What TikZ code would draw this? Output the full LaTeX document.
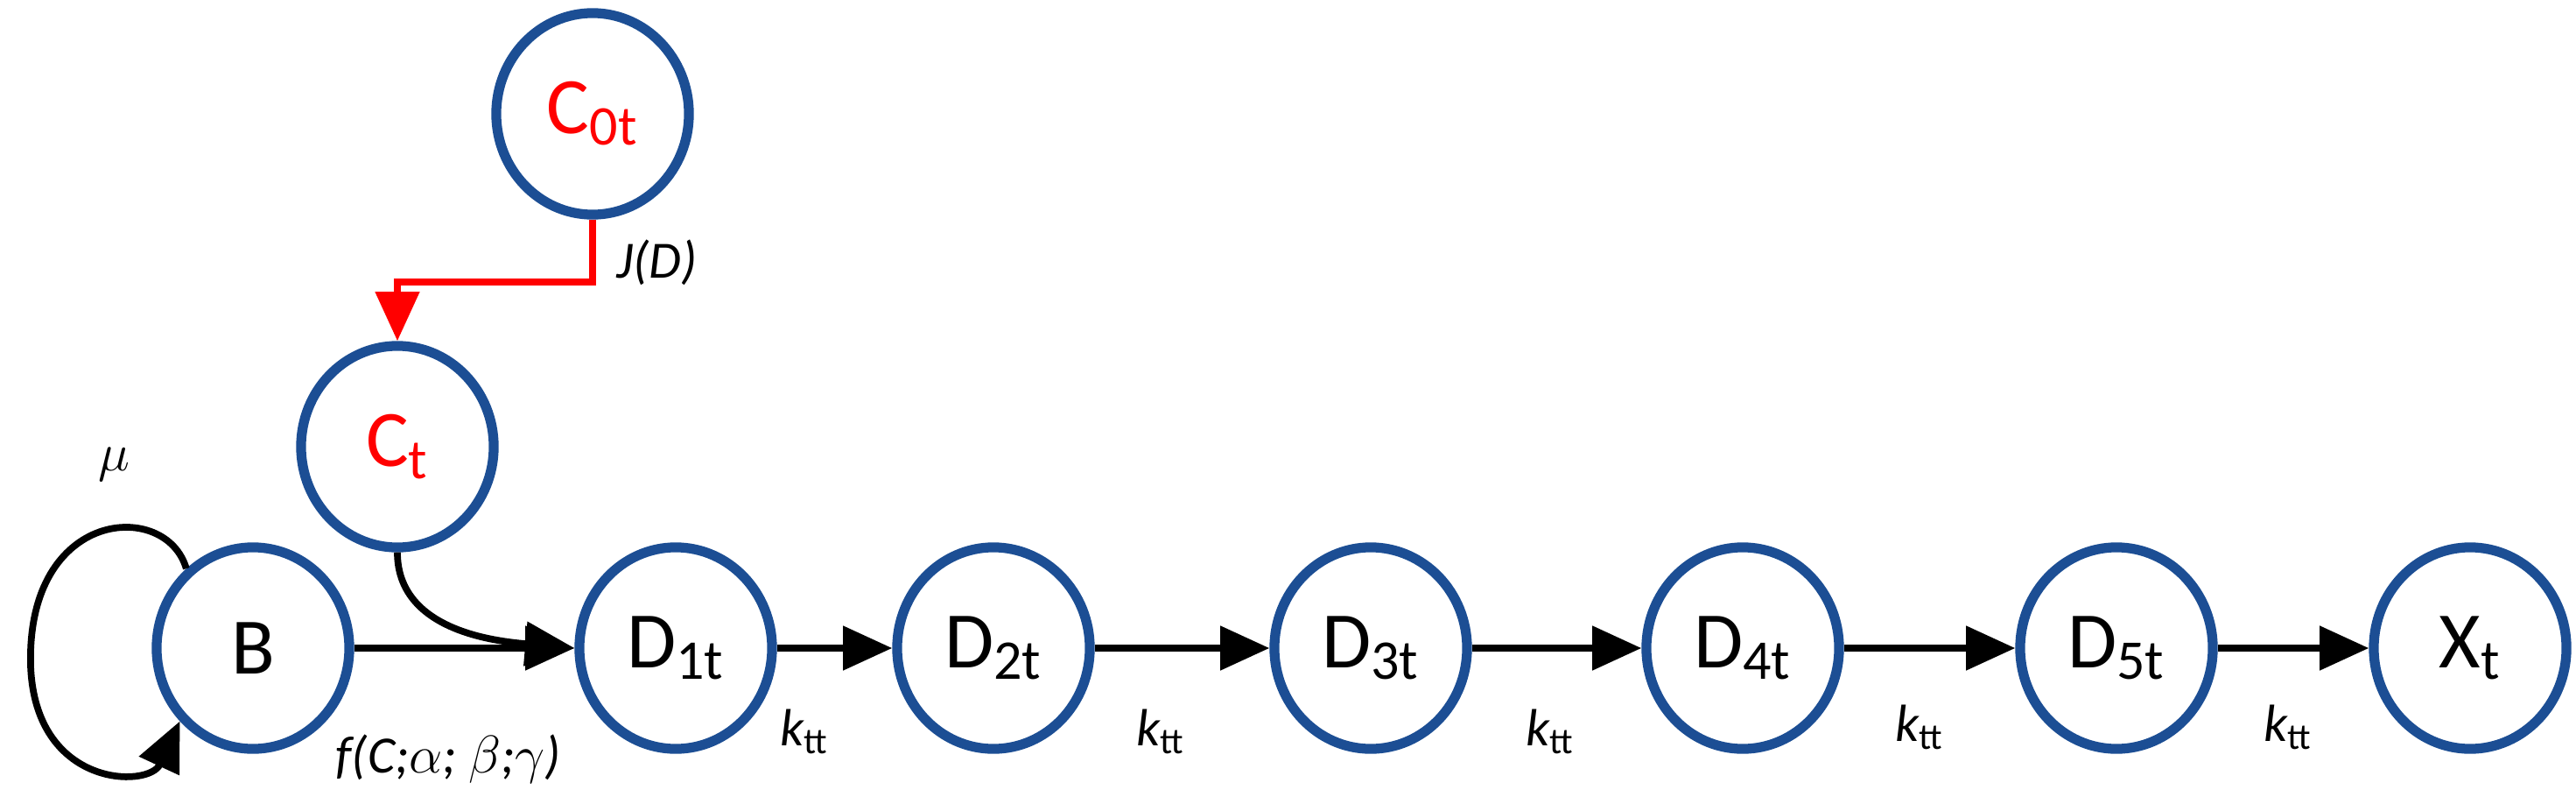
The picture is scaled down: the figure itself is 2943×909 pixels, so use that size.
\documentclass[tikz,border=0pt]{standalone}
\usepackage{fontspec}
\setmainfont{Carlito}
\usetikzlibrary{arrows.meta,shapes.geometric}
\definecolor{nb}{RGB}{28,78,148}
\begin{document}
\begin{tikzpicture}[x=0.01cm,y=-0.01cm,
  st/.style={draw=nb,line width=3.2pt,ellipse,minimum width=2.2cm,minimum height=2.3cm,inner sep=0pt,font=\fontsize{26}{28}\selectfont},
  ar/.style={line width=2.2pt,-{Triangle[length=16pt,width=14pt]}},
  lb/.style={font=\itshape\fontsize{17}{19}\selectfont}]
\useasboundingbox (0,0) rectangle (2943,909);
\node[st,text=red] (c0) at (677,130) {C\textsubscript{0t}};
\node[st,text=red] (ct) at (454,510) {C\textsubscript{t}};
\node[st] (b) at (289,740) {B};
\node[st] (d1) at (772,740) {D\textsubscript{1t}};
\node[st] (d2) at (1135,740) {D\textsubscript{2t}};
\node[st] (d3) at (1566,740) {D\textsubscript{3t}};
\node[st] (d4) at (1991,740) {D\textsubscript{4t}};
\node[st] (d5) at (2418,740) {D\textsubscript{5t}};
\node[st] (xt) at (2822,740) {X\textsubscript{t}};
\coordinate (bend) at (677,322);
\draw[ar,red] (c0.south) -- (bend) -| (ct.north);
\node[lb,anchor=west] (jd) at (692,300) {J(D)};
\draw[ar] (b.east) -- (d1.west);
\draw[ar] (ct.south) to[out=-90,in=175] (d1.west);
\draw[ar] (b.130) .. controls (190,570) and (30,580) .. (35,760) .. controls (40,900) and (170,900) .. (b.-135);
\node[lb] (mu) at (130,530) {$\mu$};
\node[lb] (f) at (512,867) {f(C;$\alpha$; $\beta$;$\gamma$)};
\draw[ar] (d1) -- (d2);
\draw[ar] (d2) -- (d3);
\draw[ar] (d3) -- (d4);
\draw[ar] (d4) -- (d5);
\draw[ar] (d5) -- (xt);
\node[lb] (k1) at (919,835) {k\textsubscript{\upshape tt}};
\node[lb] (k2) at (1326,835) {k\textsubscript{\upshape tt}};
\node[lb] (k3) at (1771,835) {k\textsubscript{\upshape tt}};
\node[lb] (k4) at (2193,830) {k\textsubscript{\upshape tt}};
\node[lb] (k5) at (2614,830) {k\textsubscript{\upshape tt}};
\end{tikzpicture}
\end{document}
